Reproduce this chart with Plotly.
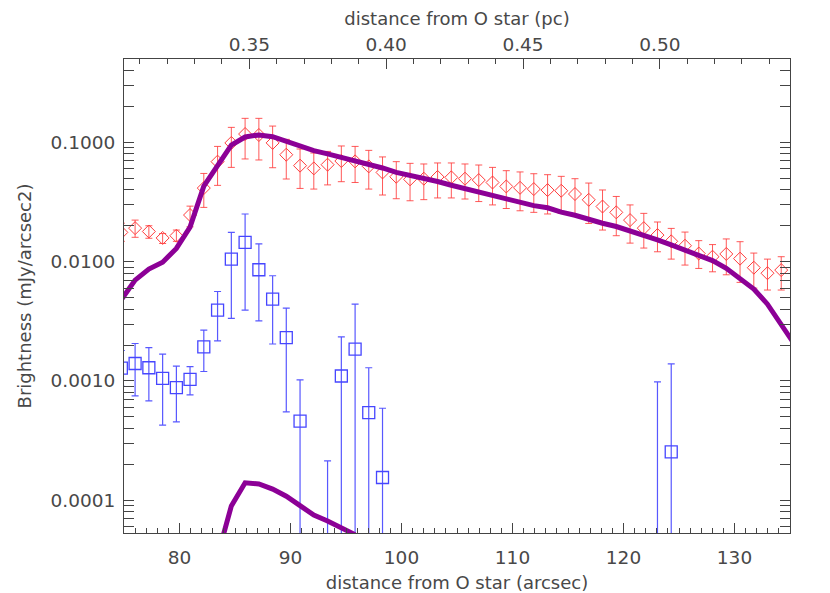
import plotly.graph_objects as go

# bin centres (arcsec from O star)
x_arcsec = [74.76, 76.00, 77.24, 78.48, 79.72, 80.95, 82.19, 83.43, 84.67, 85.91,
            87.15, 88.39, 89.62, 90.86, 92.10, 93.34, 94.58, 95.82, 97.05, 98.29,
            99.53, 100.77, 102.01, 103.25, 104.49, 105.72, 106.96, 108.20, 109.44, 110.68,
            111.92, 113.16, 114.39, 115.63, 116.87, 118.11, 119.35, 120.59, 121.83, 123.06,
            124.30, 125.54, 126.78, 128.02, 129.26, 130.50, 131.74, 132.97, 134.21, 135.45]

# red diamonds: brightness, upper / lower error-bar ends
red_val = [0.0176, 0.0191, 0.0179, 0.0158, 0.0165, 0.0246, 0.0414, 0.0689, 0.0989, 0.1175,
           0.1153, 0.0990, 0.0788, 0.0638, 0.0605, 0.0650, 0.0698, 0.0693, 0.0629, 0.0560,
           0.0515, 0.0490, 0.0496, 0.0513, 0.0509, 0.0496, 0.0483, 0.0461, 0.0427, 0.0416,
           0.0406, 0.0398, 0.0393, 0.0369, 0.0330, 0.0290, 0.0259, 0.0223, 0.0191, 0.0167,
           0.0148, 0.0136, 0.0117, 0.0110, 0.0116, 0.0106, 0.0089, 0.0080, 0.0085, None]
red_hi = [0.0210, 0.0223, 0.0200, 0.0172, 0.0184, 0.0292, 0.0549, 0.0925, 0.1336, 0.1590,
          0.1590, 0.1370, 0.1060, 0.0880, 0.0815, 0.0840, 0.0933, 0.0925, 0.0857, 0.0755,
          0.0689, 0.0667, 0.0659, 0.0672, 0.0672, 0.0659, 0.0646, 0.0617, 0.0579, 0.0565,
          0.0546, 0.0536, 0.0519, 0.0496, 0.0456, 0.0399, 0.0352, 0.0299, 0.0254, 0.0215,
          0.0190, 0.0177, 0.0150, 0.0139, 0.0155, 0.0147, 0.0118, 0.0105, 0.0110, None]
red_lo = [0.0148, 0.0160, 0.0157, 0.0142, 0.0148, 0.0196, 0.0285, 0.0436, 0.0617, 0.0726,
          0.0712, 0.0613, 0.0493, 0.0411, 0.0406, 0.0440, 0.0468, 0.0461, 0.0406, 0.0362,
          0.0337, 0.0324, 0.0331, 0.0342, 0.0342, 0.0335, 0.0319, 0.0299, 0.0279, 0.0267,
          0.0259, 0.0251, 0.0254, 0.0246, 0.0209, 0.0184, 0.0165, 0.0143, 0.0130, 0.0121,
          0.0105, 0.00936, 0.00877, 0.00822, 0.00776, 0.0067, 0.0060, 0.00578, 0.00578, None]

# blue squares
N = None
blue_val = [0.00128, 0.00140, 0.00129, 0.00105, 0.00088, 0.00103, 0.00193, 0.00393, 0.0105, 0.0145,
            0.00855, 0.00486, 0.00231, 0.00046, N, 0.00002, 0.00110, 0.00185, 0.000543, 0.000155,
            N, N, N, N, N, N, N, N, N, N,
            N, N, N, N, N, N, N, N, N, 0.00002,
            0.000254, N, N, N, N, N, N, N, N, N]
blue_hi = [0.00180, 0.00206, 0.00190, 0.00168, 0.00133, 0.00132, 0.00267, 0.00562, 0.0176, 0.0251,
           0.0141, 0.00762, 0.00408, 0.00102, N, 0.000214, 0.00234, 0.00440, 0.00129, 0.00059,
           N, N, N, N, N, N, N, N, N, N,
           N, N, N, N, N, N, N, N, N, 0.00098,
           0.00139, N, N, N, N, N, N, N, N, N]
blue_lo = [0.00090, 0.00075, 0.00068, 0.000426, 0.000454, 0.000764, 0.00120, 0.00217, 0.00334, 0.00393,
           0.00319, 0.00204, 0.00055, 1e-6, N, 1e-6, 1e-6, 1e-6, 1e-6, 1e-6,
           N, N, N, N, N, N, N, N, N, N,
           N, N, N, N, N, N, N, N, N, 1e-6,
           1e-6, N, N, N, N, N, N, N, N, N]

# model curves
model_upper = [0.0048, 0.0070, 0.00867, 0.0099, 0.0129, 0.0195, 0.0430, 0.0650, 0.0950, 0.1110,
               0.1155, 0.1115, 0.1020, 0.0920, 0.0852, 0.0800, 0.0749, 0.0705, 0.0660, 0.0610,
               0.0560, 0.0530, 0.0500, 0.0470, 0.0437, 0.0410, 0.0387, 0.0357, 0.0333, 0.0313,
               0.0295, 0.0283, 0.0260, 0.0245, 0.0225, 0.0210, 0.0197, 0.0182, 0.0168, 0.0152,
               0.0138, 0.0124, 0.0112, 0.0102, 0.0088, 0.0072, 0.0059, 0.0044, 0.0030, 0.0020]
model_lower = [N, N, N, N, N, N, N, 3.4e-5, 8.95e-5, 1.40e-4,
               1.37e-4, 1.24e-4, 1.08e-4, 9.0e-5, 7.5e-5, 6.7e-5, 5.86e-5, 5.14e-5, N, N,
               N, N, N, N, N, N, N, N, N, N,
               N, N, N, N, N, N, N, N, N, N,
               N, N, N, N, N, N, N, N, N, N]

pc_per_arcsec = 0.004056
x_range = [75, 135]
y_ticks = [1e-4, 1e-3, 1e-2, 1e-1]
y_ticktext = ["0.0001", "0.0010", "0.0100", "0.1000"]
x_ticks = [80, 90, 100, 110, 120, 130]
pc_ticks = [0.35, 0.40, 0.45, 0.50]
pc_ticktext = ["0.35", "0.40", "0.45", "0.50"]


def plus(v, h):
    return [None if a is None else b - a for a, b in zip(v, h)]


def minus(v, l):
    return [None if a is None else a - b for a, b in zip(v, l)]


RED = "rgb(255,60,60)"
BLUE = "rgb(70,70,255)"
PURPLE = "rgb(140,0,150)"
AX = "#444444"
TICKFONT = dict(family="DejaVu Sans", size=18.5, color="#484848")
TITLEFONT = dict(family="DejaVu Sans", size=18, color="#484848")

fig = go.Figure()
fig.add_trace(go.Scatter(
    x=x_arcsec, y=red_val, mode="markers",
    marker=dict(symbol="diamond-open", size=10, color=RED, line=dict(width=1, color=RED)),
    error_y=dict(type="data", symmetric=False, array=plus(red_val, red_hi),
                 arrayminus=minus(red_val, red_lo), color="rgba(255,60,60,0.85)",
                 thickness=1, width=3.5),
    showlegend=False, hoverinfo="skip"))
fig.add_trace(go.Scatter(
    x=x_arcsec, y=blue_val, mode="markers",
    marker=dict(symbol="square-open", size=12, color=BLUE, line=dict(width=1.3, color=BLUE)),
    error_y=dict(type="data", symmetric=False, array=plus(blue_val, blue_hi),
                 arrayminus=minus(blue_val, blue_lo), color="rgba(70,70,255,0.9)",
                 thickness=1.2, width=3.5),
    showlegend=False, hoverinfo="skip"))
fig.add_trace(go.Scatter(x=x_arcsec, y=model_upper, mode="lines",
                         line=dict(color=PURPLE, width=5), showlegend=False, hoverinfo="skip"))
fig.add_trace(go.Scatter(x=x_arcsec, y=model_lower, mode="lines", connectgaps=False,
                         line=dict(color=PURPLE, width=5), showlegend=False, hoverinfo="skip"))
# carrier for the top (pc) axis
fig.add_trace(go.Scatter(x=[pc_ticks[0]], y=[None], xaxis="x2", mode="markers",
                         showlegend=False, hoverinfo="skip"))

minor_y = [m * 10 ** e for e in range(-5, 1) for m in range(2, 10)]

fig.update_layout(
    width=822, height=585,
    margin=dict(l=116, r=40, t=51, b=60, autoexpand=False),
    paper_bgcolor="white", plot_bgcolor="white",
    font=TICKFONT,
    xaxis=dict(range=x_range, tickvals=x_ticks, ticks="inside", ticklen=10, tickcolor=AX,
               showline=True, linecolor=AX, linewidth=1, showgrid=False, zeroline=False,
               ticklabelstandoff=8, tickfont=TICKFONT,
               minor=dict(dtick=1, ticks="inside", ticklen=5, tickcolor=AX, showgrid=False),
               title=dict(text="distance from O star (arcsec)", standoff=14, font=TITLEFONT)),
    xaxis2=dict(overlaying="x", side="top",
                range=[x_range[0] * pc_per_arcsec, x_range[1] * pc_per_arcsec],
                tickvals=pc_ticks, ticktext=pc_ticktext, ticks="inside", ticklen=10,
                tickcolor=AX, showline=True, linecolor=AX, linewidth=1, showgrid=False,
                zeroline=False, ticklabelstandoff=0, tickfont=TICKFONT,
                minor=dict(dtick=0.01, ticks="inside", ticklen=5, tickcolor=AX, showgrid=False),
                title=dict(text="distance from O star (pc)", standoff=4, font=TITLEFONT)),
    yaxis=dict(type="log", range=[-4.275, -0.301], tickvals=y_ticks, ticktext=y_ticktext,
               ticks="inside", ticklen=10, tickcolor=AX, showline=True, linecolor=AX,
               linewidth=1, mirror="allticks", showgrid=False, zeroline=False,
               ticklabelstandoff=4, tickfont=TICKFONT,
               minor=dict(tickvals=minor_y, ticks="inside", ticklen=5, tickcolor=AX,
                          showgrid=False),
               title=dict(text="Brightness (mJy/arcsec2)", standoff=14, font=TITLEFONT)),
)

fig.write_html("out.html")
